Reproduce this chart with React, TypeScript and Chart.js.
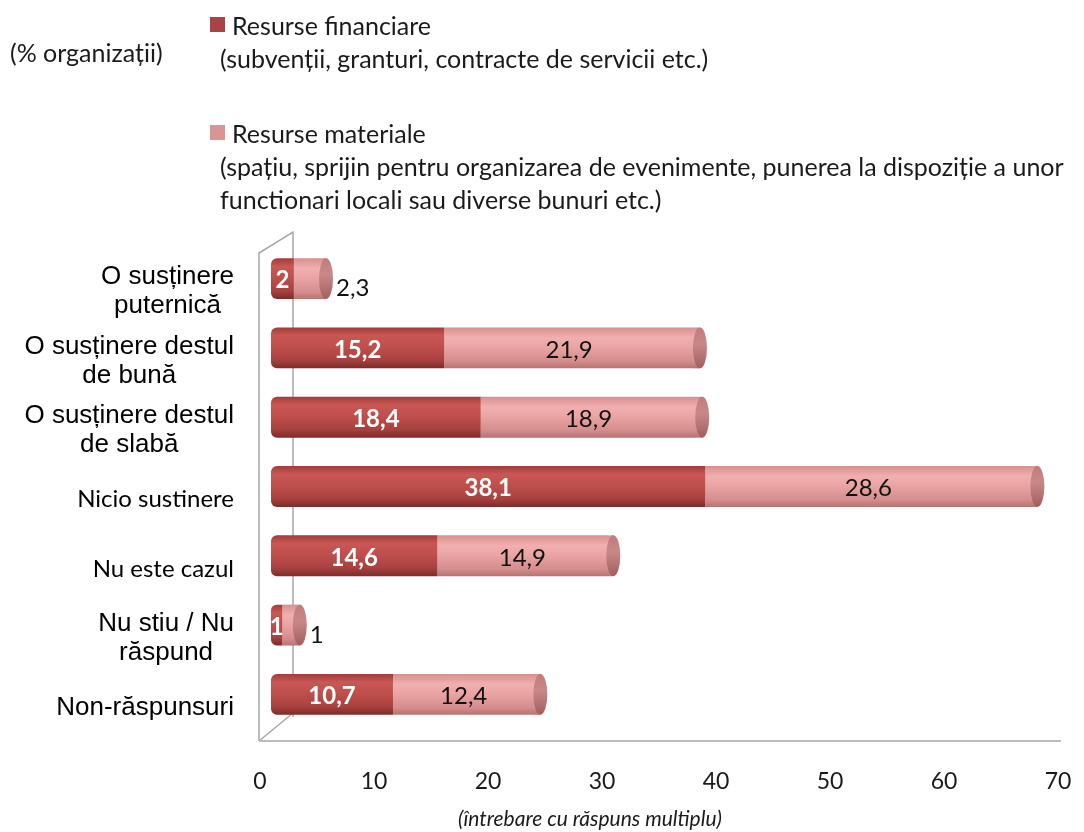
import { useEffect, useRef } from 'react';
import { Chart, registerables } from 'chart.js';
Chart.register(...registerables);

const categories: string[][] = [
  ['O susținere', 'puternică'],
  ['O susținere destul', 'de bună'],
  ['O susținere destul', 'de slabă'],
  ['Nicio sustinere'],
  ['Nu este cazul'],
  ['Nu stiu / Nu', 'răspund'],
  ['Non-răspunsuri'],
];
const categoryArialFont = [true, true, true, false, false, true, true];
const financiare = [2, 15.2, 18.4, 38.1, 14.6, 1, 10.7];
const materiale = [2.3, 21.9, 18.9, 28.6, 14.9, 1, 12.4];
const xMin = 0;
const xMax = 70;
const xStep = 10;
const seriesNames = ['Resurse financiare', 'Resurse materiale'];
const seriesNotes: string[][] = [
  ['(subvenții, granturi, contracte de servicii etc.)'],
  ['(spațiu, sprijin pentru organizarea de evenimente, punerea la dispoziție a unor', 'functionari locali sau diverse bunuri etc.)'],
];
const unitNote = '(% organizații)';
const footNote = '(întrebare cu răspuns multiplu)';

const CAL = "Lato, 'Open Sans', sans-serif";
const ARIAL = "'Liberation Sans', Arial, sans-serif";
const BAR_FRAC = 0.59;

const darkStops: [number, string][] = [
  [0, '#a13c3a'], [0.2, '#c95754'], [0.45, '#c0504d'], [0.8, '#a8413f'], [1, '#7c2b2a'],
];
const pinkStops: [number, string][] = [
  [0, '#d69090'], [0.25, '#f2afaf'], [0.5, '#e9a3a3'], [0.82, '#d58d8d'], [1, '#b87272'],
];

function grad(chart: any, idx: number, stops: [number, string][]) {
  const area = chart.chartArea;
  const ys = chart.scales && chart.scales.y;
  if (!area || !ys) return stops[2][1];
  const c = ys.getPixelForValue(idx);
  const h = (area.height / categories.length) * BAR_FRAC;
  const g = chart.ctx.createLinearGradient(0, c - h / 2, 0, c + h / 2);
  stops.forEach(([o, col]) => g.addColorStop(o, col));
  return g;
}

const fmt = (v: number) => String(v).replace('.', ',');

const framePlugin = {
  id: 'frame3d',
  beforeDatasetsDraw(chart: any) {
    const { ctx, chartArea: a } = chart;
    ctx.save();
    ctx.strokeStyle = '#a6a6a6';
    ctx.lineWidth = 1.5;
    const fx = a.left - 12;
    const bx = a.left + 22;
    const ftop = a.top + 9;
    const btop = a.top - 12;
    const floor = a.bottom + 12;
    ctx.beginPath();
    ctx.moveTo(fx, floor);
    ctx.lineTo(fx, ftop);
    ctx.lineTo(bx, btop);
    ctx.lineTo(bx, a.bottom - 12);
    ctx.moveTo(fx, floor);
    ctx.lineTo(bx, a.bottom - 16);
    ctx.stroke();
    ctx.strokeStyle = '#bdbdbd';
    ctx.lineWidth = 2;
    ctx.beginPath();
    ctx.moveTo(fx, floor);
    ctx.lineTo(a.right - 8, floor);
    ctx.stroke();
    ctx.restore();
  },
  afterDatasetsDraw(chart: any) {
    const { ctx } = chart;
    const meta1 = chart.getDatasetMeta(1);
    ctx.save();
    meta1.data.forEach((bar: any, i: number) => {
      const h = bar.height;
      const x = bar.x;
      const y = bar.y;
      ctx.fillStyle = grad(chart, i, pinkStops);
      ctx.fillRect(x - 0.5, y - h / 2, 6.5, h);
      const g = ctx.createLinearGradient(0, y - h / 2, 0, y + h / 2);
      g.addColorStop(0, '#c07c7c');
      g.addColorStop(0.4, '#c98888');
      g.addColorStop(1, '#a15e5e');
      ctx.fillStyle = g;
      ctx.beginPath();
      ctx.ellipse(x + 6, y, 7, h / 2, 0, 0, Math.PI * 2);
      ctx.fill();
    });
    ctx.textBaseline = 'middle';
    const meta0 = chart.getDatasetMeta(0);
    meta0.data.forEach((bar: any, i: number) => {
      ctx.fillStyle = '#ffffff';
      ctx.font = `bold 24px ${CAL}`;
      ctx.textAlign = 'center';
      ctx.fillText(fmt(financiare[i]), (bar.base + bar.x) / 2, bar.y + 2);
    });
    meta1.data.forEach((bar: any, i: number) => {
      ctx.fillStyle = '#111111';
      ctx.font = `24px ${CAL}`;
      const v = materiale[i];
      if (v < 5) {
        ctx.textAlign = 'left';
        ctx.fillText(fmt(v), bar.x + 16, bar.y + 10);
      } else {
        ctx.textAlign = 'center';
        ctx.fillText(fmt(v), (bar.base + bar.x) / 2, bar.y + 2);
      }
    });
    ctx.restore();
  },
  afterDraw(chart: any) {
    const { ctx, chartArea: a } = chart;
    const ys = chart.scales.y;
    ctx.save();
    ctx.fillStyle = '#000000';
    ctx.textBaseline = 'middle';
    ctx.textAlign = 'center';
    categories.forEach((lines, i) => {
      const arial = categoryArialFont[i];
      ctx.font = arial ? `26px ${ARIAL}` : `24px ${CAL}`;
      const lh = 29;
      const cy = ys.getPixelForValue(i) + 13;
      const maxW = Math.max(...lines.map((l) => ctx.measureText(l).width));
      const right = a.left - 37;
      const cx = right - maxW / 2;
      lines.forEach((l, j) => {
        ctx.fillText(l, cx, cy + (j - (lines.length - 1) / 2) * lh);
      });
    });
    ctx.restore();
  },
};

export default function App() {
  const ref = useRef<HTMLCanvasElement>(null);
  useEffect(() => {
    if (!ref.current) return;
    const chart = new Chart(ref.current, {
      type: 'bar',
      data: {
        labels: categories.map((c) => c.join(' ')),
        datasets: [
          {
            label: seriesNames[0],
            data: financiare,
            backgroundColor: (c: any) => grad(c.chart, c.dataIndex, darkStops),
            borderWidth: 0,
            borderSkipped: false,
            borderRadius: { topLeft: 6, bottomLeft: 6, topRight: 0, bottomRight: 0 },
            barPercentage: 1,
            categoryPercentage: BAR_FRAC,
          },
          {
            label: seriesNames[1],
            data: materiale,
            backgroundColor: (c: any) => grad(c.chart, c.dataIndex, pinkStops),
            borderWidth: 0,
            borderSkipped: false,
            borderRadius: 0,
            barPercentage: 1,
            categoryPercentage: BAR_FRAC,
          },
        ],
      },
      options: {
        indexAxis: 'y',
        animation: false,
        responsive: false,
        layout: { padding: { left: 271, right: 15, top: 244, bottom: 37 } },
        plugins: { legend: { display: false }, tooltip: { enabled: false } },
        scales: {
          x: {
            stacked: true,
            min: xMin,
            max: xMax,
            afterFit: (s: any) => {
              s.height = 66;
              s.paddingLeft = 0;
              s.paddingRight = 0;
            },
            ticks: {
              stepSize: xStep,
              labelOffset: -11,
              padding: 39,
              maxRotation: 0,
              color: '#1a1a1a',
              font: { family: CAL, size: 23 },
            },
            grid: { display: false, drawTicks: false },
            border: { display: false },
          },
          y: {
            stacked: true,
            display: false,
          },
        },
      },
      plugins: [framePlugin],
    });
    return () => chart.destroy();
  }, []);

  const legendColors = ['#a94442', '#d99594'];
  const txt: any = { position: 'absolute', fontFamily: CAL, fontSize: 25, color: '#1a1a1a', whiteSpace: 'nowrap', lineHeight: '30px' };
  const titleCenters = [25, 133];
  return (
    <div style={{ position: 'fixed', left: 0, top: 0, width: 1084, height: 832, background: '#fff' }}>
      <canvas ref={ref} width={1084} height={832} style={{ position: 'absolute', left: 0, top: 0 }} />
      <div style={{ ...txt, left: 10, top: 52 - 15 }}>{unitNote}</div>
      {seriesNames.map((n, si) => {
        const c = titleCenters[si];
        return (
          <div key={n}>
            <div style={{ position: 'absolute', left: 210, top: c - 8, width: 15, height: 15, background: legendColors[si] }} />
            <div style={{ ...txt, left: 232, top: c - 15 }}>{n}</div>
            {seriesNotes[si].map((l, j) => (
              <div key={j} style={{ ...txt, left: 220, top: c + 33 + j * 33 - 15 }}>{l}</div>
            ))}
          </div>
        );
      })}
      <div style={{ ...txt, left: 0, width: 1180, textAlign: 'center', top: 818 - 13, fontSize: 21, lineHeight: '26px', fontStyle: 'italic' }}>{footNote}</div>
    </div>
  );
}
